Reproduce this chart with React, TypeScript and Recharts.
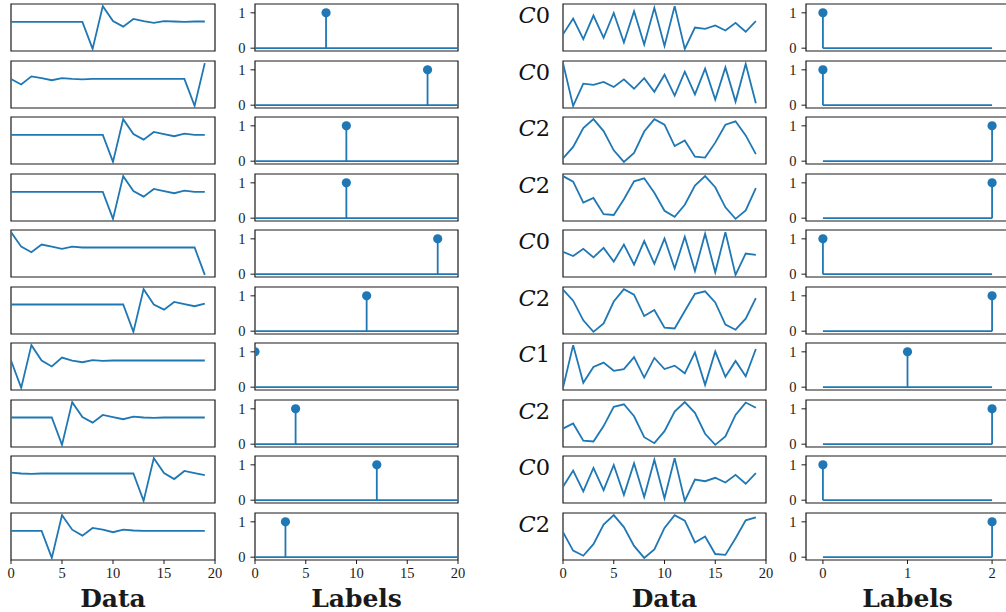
import React from "react";
import { LineChart, Line, XAxis, YAxis, ReferenceArea } from "recharts";

// ---------- data ----------
const xIndex = [0, 1, 2, 3, 4, 5, 6, 7, 8, 9, 10, 11, 12, 13, 14, 15, 16, 17, 18, 19];

const dataLeft: number[][] = [
  [0.63, 0.63, 0.63, 0.63, 0.63, 0.63, 0.63, 0.63, 0, 1, 0.65, 0.52, 0.7, 0.65, 0.61, 0.65, 0.64, 0.63, 0.64, 0.64],
  [0.63, 0.5, 0.69, 0.65, 0.6, 0.65, 0.63, 0.62, 0.63, 0.63, 0.63, 0.63, 0.63, 0.63, 0.63, 0.63, 0.63, 0.63, 0, 1],
  [0.63, 0.63, 0.63, 0.63, 0.63, 0.63, 0.63, 0.63, 0.63, 0.63, 0, 1, 0.65, 0.52, 0.7, 0.65, 0.6, 0.66, 0.63, 0.63],
  [0.63, 0.63, 0.63, 0.63, 0.63, 0.63, 0.63, 0.63, 0.63, 0.63, 0, 1, 0.65, 0.52, 0.7, 0.65, 0.6, 0.66, 0.63, 0.63],
  [1, 0.66, 0.53, 0.71, 0.66, 0.61, 0.66, 0.64, 0.64, 0.64, 0.64, 0.64, 0.64, 0.64, 0.64, 0.64, 0.64, 0.64, 0.64, 0],
  [0.64, 0.64, 0.64, 0.64, 0.64, 0.64, 0.64, 0.64, 0.64, 0.64, 0.64, 0.64, 0, 1, 0.64, 0.52, 0.7, 0.65, 0.6, 0.66],
  [0.64, 0, 1, 0.64, 0.5, 0.71, 0.64, 0.6, 0.65, 0.63, 0.64, 0.64, 0.64, 0.64, 0.64, 0.64, 0.64, 0.64, 0.64, 0.64],
  [0.64, 0.64, 0.64, 0.64, 0.64, 0, 1, 0.65, 0.52, 0.7, 0.65, 0.6, 0.66, 0.64, 0.63, 0.64, 0.64, 0.64, 0.64, 0.64],
  [0.66, 0.64, 0.63, 0.64, 0.64, 0.64, 0.64, 0.64, 0.64, 0.64, 0.64, 0.64, 0.64, 0, 1, 0.65, 0.51, 0.7, 0.65, 0.6],
  [0.63, 0.63, 0.63, 0.63, 0, 1, 0.66, 0.52, 0.7, 0.66, 0.6, 0.66, 0.64, 0.63, 0.63, 0.63, 0.63, 0.63, 0.63, 0.63],
];

const labelIdxLeft = [7, 17, 9, 9, 18, 11, 0, 4, 12, 3];
const labelPositionsLeft = [0, 1, 2, 3, 4, 5, 6, 7, 8, 9, 10, 11, 12, 13, 14, 15, 16, 17, 18, 19, 20];

const dataRight: number[][] = [
  [0.34, 0.71, 0.23, 0.78, 0.26, 0.84, 0.15, 0.88, 0.1, 0.96, 0.07, 1.0, 0, 0.5, 0.47, 0.55, 0.43, 0.61, 0.4, 0.65],
  [1, 0, 0.52, 0.49, 0.56, 0.44, 0.62, 0.4, 0.65, 0.33, 0.73, 0.24, 0.8, 0.27, 0.87, 0.15, 0.9, 0.1, 0.98, 0.06],
  [0.08, 0.35, 0.79, 1.0, 0.72, 0.27, 0, 0.21, 0.71, 1.0, 0.87, 0.37, 0.5, 0.12, 0.1, 0.45, 0.87, 0.95, 0.62, 0.18],
  [1.0, 0.87, 0.38, 0.49, 0.11, 0.09, 0.46, 0.88, 0.95, 0.61, 0.19, 0.05, 0.33, 0.78, 1.0, 0.74, 0.27, 0, 0.2, 0.72],
  [0.54, 0.44, 0.61, 0.41, 0.63, 0.31, 0.71, 0.24, 0.79, 0.26, 0.85, 0.15, 0.89, 0.09, 0.96, 0.06, 1.0, 0, 0.5, 0.47],
  [0.99, 0.73, 0.27, 0, 0.2, 0.71, 1.0, 0.87, 0.37, 0.51, 0.1, 0.08, 0.49, 0.89, 0.95, 0.69, 0.17, 0.05, 0.31, 0.79],
  [0, 1, 0.12, 0.49, 0.59, 0.4, 0.44, 0.72, 0.24, 0.7, 0.44, 0.52, 0.34, 0.83, 0.07, 0.85, 0.26, 0.63, 0.27, 0.91],
  [0.38, 0.5, 0.1, 0.08, 0.44, 0.89, 0.95, 0.67, 0.18, 0.04, 0.32, 0.78, 1.0, 0.75, 0.26, 0, 0.2, 0.7, 0.99, 0.87],
  [0.33, 0.71, 0.22, 0.77, 0.25, 0.84, 0.14, 0.88, 0.09, 0.96, 0.06, 1.0, 0, 0.5, 0.46, 0.54, 0.43, 0.61, 0.4, 0.65],
  [0.6, 0.17, 0.05, 0.32, 0.78, 1.0, 0.72, 0.28, 0, 0.2, 0.7, 1.0, 0.87, 0.36, 0.5, 0.09, 0.07, 0.46, 0.88, 0.95],
];

const classNames = ["C0", "C0", "C2", "C2", "C0", "C2", "C1", "C2", "C0", "C2"];
const labelIdxRight = [0, 0, 2, 2, 0, 2, 1, 2, 0, 2];
const labelPositionsRight = [0, 1, 2];

const ticksData = [0, 5, 10, 15, 20];
const ticksLabelsLeft = [0, 5, 10, 15, 20];
const ticksLabelsRight = [0, 1, 2];
const ticksY = [0, 1];

// ---------- style / layout ----------
const BLUE = "#1f77b4";
const INK = "#1a1a1a";
const FRAME = "#1a1a1a";
const FONT_TICK = "'Liberation Serif', 'DejaVu Serif', serif";
const FONT_TITLE = "'DejaVu Serif', serif";
const ROW_TOP0 = 4;
const ROW_PITCH = 56.5;
const BOX_H = 47;
const COLS = [
  { left: 11, w: 204 },
  { left: 255, w: 203 },
  { left: 563, w: 203 },
  { left: 806, w: 203 },
];
const NROWS = 10;
const X_AXIS_H = 52;
const Y_TICK_W = 30;
const Y_LABEL_W = 55;
const PAD = { top: 8, right: 12, bottom: 8, left: 12 };

const tickStyle = { fill: INK, fontSize: 14.5, fontFamily: FONT_TICK };
const titleStyle = { fill: INK, fontSize: 25, fontWeight: "bold", fontFamily: FONT_TITLE };

const CLabel = (props: any) => {
  const vb = props.viewBox || { x: 0, y: 0, width: Y_LABEL_W, height: BOX_H };
  const cls: string = props.cls;
  return (
    <text
      x={vb.x + vb.width - 13}
      y={vb.y + 18.5}
      textAnchor="end"
      fontFamily={FONT_TITLE}
      fontSize={22.5}
      fill="#111"
    >
      <tspan fontStyle="italic">{cls.slice(0, 1)}</tspan>
      <tspan>{cls.slice(1)}</tspan>
    </text>
  );
};

function DataPanel({ values, row, col, cls }: { values: number[]; row: number; col: number; cls?: string }) {
  const last = row === NROWS - 1;
  const yw = cls ? Y_LABEL_W : 0;
  const xh = last ? X_AXIS_H : 0;
  const box = COLS[col];
  const top = ROW_TOP0 + row * ROW_PITCH;
  const data = values.map((v, i) => ({ x: xIndex[i], v }));
  const yDom: [number, number] = [-0.05, 1.05];
  const xDom: [number, number] = [0, 20];
  const W = box.w + yw + PAD.left + PAD.right;
  const H = BOX_H + xh + PAD.top + PAD.bottom;
  return (
    <div style={{ position: "absolute", left: box.left - yw - PAD.left, top: top - PAD.top, width: W, height: H }}>
      <LineChart width={W} height={H} data={data} margin={PAD}>
        <XAxis
          dataKey="x"
          type="number"
          domain={xDom}
          ticks={ticksData}
          interval={0}
          hide={!last}
          height={last ? xh : 0}
          allowDataOverflow
          axisLine={false}
          tickSize={4}
          tickMargin={4}
          tickLine={{ stroke: INK }}
          tick={tickStyle}
          label={last ? { value: "Data", position: "insideBottom", offset: 5, ...titleStyle } : undefined}
        />
        <YAxis
          type="number"
          domain={yDom}
          hide={!cls}
          width={yw}
          tick={false}
          tickLine={false}
          axisLine={false}
          allowDataOverflow
          label={cls ? <CLabel cls={cls} /> : undefined}
        />
        <ReferenceArea
          x1={xDom[0]}
          x2={xDom[1]}
          y1={yDom[0]}
          y2={yDom[1]}
          fill="none"
          fillOpacity={0}
          stroke={FRAME}
          strokeWidth={1.2}
          ifOverflow="visible"
        />
        <Line
          dataKey="v"
          type="linear"
          stroke={BLUE}
          strokeWidth={1.8}
          dot={false}
          activeDot={false}
          isAnimationActive={false}
        />
      </LineChart>
    </div>
  );
}

function StemPanel({
  idx,
  positions,
  row,
  col,
  xDom,
  ticks,
}: {
  idx: number;
  positions: number[];
  row: number;
  col: number;
  xDom: [number, number];
  ticks: number[];
}) {
  const last = row === NROWS - 1;
  const xh = last ? X_AXIS_H : 0;
  const box = COLS[col];
  const top = ROW_TOP0 + row * ROW_PITCH;
  const yDom: [number, number] = [-0.08, 1.25];
  const oneHot = positions.map((p) => (p === idx ? 1 : 0));
  const baseData = positions.map((p) => ({ x: p, y: 0 }));
  const stemData = positions
    .map((p, i) => ({ p, v: oneHot[i] }))
    .filter((d) => d.v !== 0)
    .flatMap((d) => [
      { x: d.p, y: 0 },
      { x: d.p, y: d.v },
    ]);
  const W = box.w + Y_TICK_W + PAD.left + PAD.right;
  const H = BOX_H + xh + PAD.top + PAD.bottom;
  const renderDot = (p: any) =>
    p.index % 2 === 1 ? (
      <circle key={`dot-${p.index}`} cx={p.cx} cy={p.cy} r={4.6} fill={BLUE} stroke="none" />
    ) : (
      <g key={`dot-${p.index}`} />
    );
  return (
    <div
      style={{
        position: "absolute",
        left: box.left - Y_TICK_W - PAD.left,
        top: top - PAD.top,
        width: W,
        height: H,
      }}
    >
      <LineChart width={W} height={H} margin={PAD}>
        <XAxis
          dataKey="x"
          type="number"
          domain={xDom}
          ticks={ticks}
          interval={0}
          hide={!last}
          height={last ? xh : 0}
          allowDataOverflow
          axisLine={false}
          tickSize={4}
          tickMargin={4}
          tickLine={{ stroke: INK }}
          tick={tickStyle}
          label={last ? { value: "Labels", position: "insideBottom", offset: 5, ...titleStyle } : undefined}
        />
        <YAxis
          type="number"
          domain={yDom}
          ticks={ticksY}
          interval={0}
          width={Y_TICK_W}
          allowDataOverflow
          axisLine={false}
          tickSize={4.5}
          tickMargin={5}
          tickLine={{ stroke: INK }}
          tick={tickStyle}
        />
        <ReferenceArea
          x1={xDom[0]}
          x2={xDom[1]}
          y1={yDom[0]}
          y2={yDom[1]}
          fill="none"
          fillOpacity={0}
          stroke={FRAME}
          strokeWidth={1.2}
          ifOverflow="visible"
        />
        <Line
          data={baseData}
          dataKey="y"
          type="linear"
          stroke={BLUE}
          strokeWidth={1.8}
          dot={false}
          activeDot={false}
          isAnimationActive={false}
        />
        <Line
          data={stemData}
          dataKey="y"
          type="linear"
          stroke={BLUE}
          strokeWidth={1.8}
          dot={renderDot}
          activeDot={false}
          isAnimationActive={false}
        />
      </LineChart>
    </div>
  );
}

export default function App() {
  return (
    <div
      style={{
        position: "absolute",
        left: 0,
        top: 0,
        width: 1006,
        height: 612,
        overflow: "hidden",
        background: "#ffffff",
      }}
    >
      {dataLeft.map((vals, r) => (
        <DataPanel key={`dl-${r}`} values={vals} row={r} col={0} />
      ))}
      {labelIdxLeft.map((k, r) => (
        <StemPanel
          key={`sl-${r}`}
          idx={k}
          positions={labelPositionsLeft}
          row={r}
          col={1}
          xDom={[0, 20]}
          ticks={ticksLabelsLeft}
        />
      ))}
      {dataRight.map((vals, r) => (
        <DataPanel key={`dr-${r}`} values={vals} row={r} col={2} cls={classNames[r]} />
      ))}
      {labelIdxRight.map((k, r) => (
        <StemPanel
          key={`sr-${r}`}
          idx={k}
          positions={labelPositionsRight}
          row={r}
          col={3}
          xDom={[-0.2, 2.2]}
          ticks={ticksLabelsRight}
        />
      ))}
    </div>
  );
}
